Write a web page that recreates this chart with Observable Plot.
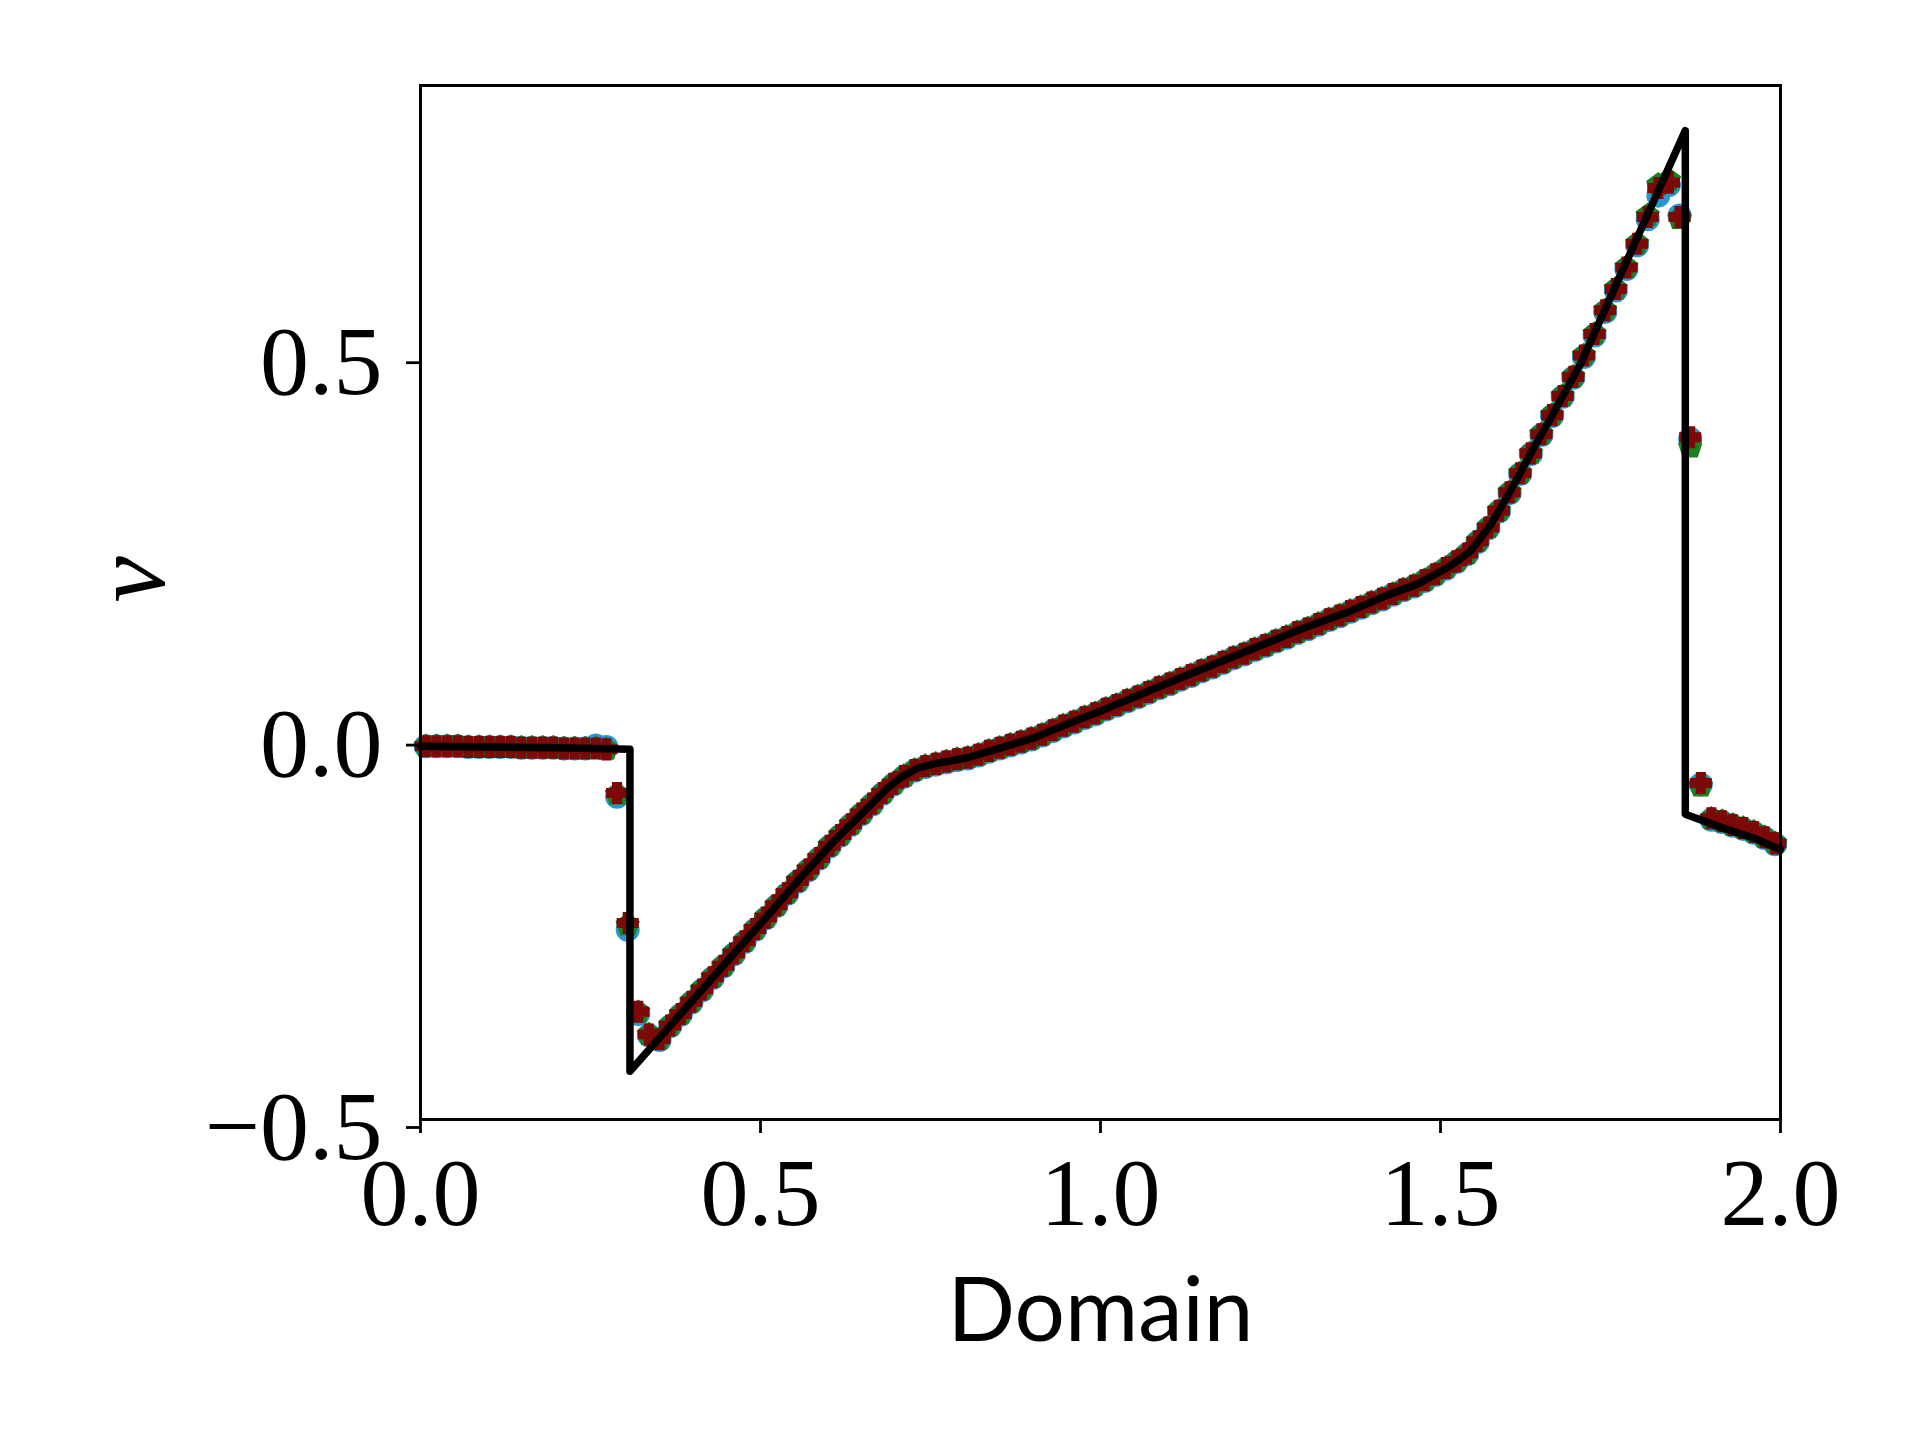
<!DOCTYPE html>
<html>
<head>
<meta charset="utf-8">
<script src="https://cdn.jsdelivr.net/npm/d3@7"></script>
<script src="https://cdn.jsdelivr.net/npm/@observablehq/plot@0.6"></script>
<style>
  html, body { margin: 0; padding: 0; background: #fff; }
  #chart { width: 1920px; height: 1440px; }
</style>
</head>
<body>
<div id="chart"></div>
<script>
// ---- data ----
const xTicks = [0, 0.5, 1, 1.5, 2];
const yTicks = [-0.5, 0, 0.5];

// cell centres of the numerical solutions
const xCells = [0.0078,0.0234,0.0391,0.0547,0.0703,0.0859,0.1016,0.1172,0.1328,0.1484,0.1641,0.1797,0.1953,0.2109,0.2266,0.2422,
0.2578,0.2734,0.2891,0.3047,0.3203,0.3359,0.3516,0.3672,0.3828,0.3984,0.4141,0.4297,0.4453,0.4609,0.4766,0.4922,
0.5078,0.5234,0.5391,0.5547,0.5703,0.5859,0.6016,0.6172,0.6328,0.6484,0.6641,0.6797,0.6953,0.7109,0.7266,0.7422,
0.7578,0.7734,0.7891,0.8047,0.8203,0.8359,0.8516,0.8672,0.8828,0.8984,0.9141,0.9297,0.9453,0.9609,0.9766,0.9922,
1.0078,1.0234,1.0391,1.0547,1.0703,1.0859,1.1016,1.1172,1.1328,1.1484,1.1641,1.1797,1.1953,1.2109,1.2266,1.2422,
1.2578,1.2734,1.2891,1.3047,1.3203,1.3359,1.3516,1.3672,1.3828,1.3984,1.4141,1.4297,1.4453,1.4609,1.4766,1.4922,
1.5078,1.5234,1.5391,1.5547,1.5703,1.5859,1.6016,1.6172,1.6328,1.6484,1.6641,1.6797,1.6953,1.7109,1.7266,1.7422,
1.7578,1.7734,1.7891,1.8047,1.8203,1.8359,1.8516,1.8672,1.8828,1.8984,1.9141,1.9297,1.9453,1.9609,1.9766,1.9922];

// scheme A (blue circles)
const vCircle = [-0.012,-0.012,-0.012,-0.012,-0.013,-0.013,-0.013,-0.013,-0.013,-0.014,-0.014,-0.014,-0.014,-0.015,-0.015,-0.015,
-0.011,-0.013,-0.078,-0.252,-0.362,-0.390,-0.396,
-0.378,-0.363,-0.347,-0.331,-0.315,-0.300,-0.284,-0.268,-0.252,-0.237,-0.221,-0.205,-0.189,
-0.174,-0.159,-0.143,-0.129,-0.115,-0.101,-0.088,-0.074,-0.062,-0.052,-0.044,-0.039,
-0.036,-0.033,-0.030,-0.028,-0.024,-0.019,-0.015,-0.011,-0.007,-0.003,0.002,0.008,0.014,0.019,0.025,0.030,
0.036,0.041,0.047,0.052,0.058,0.064,0.069,0.075,0.080,0.086,0.091,0.097,0.103,0.108,0.114,0.119,0.125,0.130,0.136,0.141,0.147,0.153,0.158,0.164,
0.169,0.175,0.180,0.186,0.192,0.197,0.204,0.212,0.220,0.229,0.239,0.255,0.273,0.295,0.319,0.344,0.370,0.395,0.420,0.445,0.470,
0.497,0.525,0.556,0.584,0.612,0.643,0.677,0.708,0.722,0.682,0.390,-0.062,-0.108,-0.111,-0.116,-0.120,-0.125,-0.132,-0.140];

// scheme B (green pentagons)
const vPentagon = [-0.012,-0.012,-0.012,-0.012,-0.013,-0.013,-0.013,-0.013,-0.013,-0.014,-0.014,-0.014,-0.014,-0.015,-0.015,-0.015,
-0.015,-0.016,-0.075,-0.246,-0.360,-0.389,-0.395,
-0.377,-0.362,-0.346,-0.330,-0.314,-0.299,-0.283,-0.267,-0.251,-0.236,-0.220,-0.204,-0.188,
-0.173,-0.158,-0.142,-0.128,-0.114,-0.100,-0.087,-0.073,-0.061,-0.051,-0.043,-0.038,
-0.035,-0.032,-0.029,-0.027,-0.023,-0.018,-0.014,-0.010,-0.006,-0.002,0.003,0.009,0.015,0.020,0.026,0.031,
0.037,0.042,0.048,0.053,0.059,0.065,0.070,0.076,0.081,0.087,0.092,0.098,0.104,0.109,0.115,0.120,0.126,0.131,0.137,0.142,0.148,0.154,0.159,0.165,
0.170,0.176,0.181,0.187,0.193,0.198,0.205,0.213,0.221,0.230,0.240,0.256,0.274,0.296,0.320,0.345,0.371,0.396,0.421,0.446,0.471,
0.499,0.527,0.558,0.586,0.614,0.645,0.682,0.722,0.728,0.678,0.379,-0.064,-0.107,-0.110,-0.115,-0.119,-0.124,-0.131,-0.139];

// scheme C (dark red plus)
const vPlus = [-0.012,-0.012,-0.012,-0.012,-0.013,-0.013,-0.013,-0.013,-0.013,-0.014,-0.014,-0.014,-0.014,-0.015,-0.015,-0.015,
-0.015,-0.016,-0.073,-0.243,-0.359,-0.389,-0.395,
-0.377,-0.362,-0.346,-0.330,-0.314,-0.299,-0.283,-0.267,-0.251,-0.236,-0.220,-0.204,-0.188,
-0.173,-0.158,-0.142,-0.128,-0.114,-0.100,-0.087,-0.073,-0.061,-0.051,-0.043,-0.038,
-0.035,-0.032,-0.029,-0.027,-0.023,-0.018,-0.014,-0.010,-0.006,-0.002,0.003,0.009,0.015,0.020,0.026,0.031,
0.037,0.042,0.048,0.053,0.059,0.065,0.070,0.076,0.081,0.087,0.092,0.098,0.104,0.109,0.115,0.120,0.126,0.131,0.137,0.142,0.148,0.154,0.159,0.165,
0.170,0.176,0.181,0.187,0.193,0.198,0.205,0.213,0.221,0.230,0.240,0.256,0.274,0.296,0.320,0.345,0.371,0.396,0.421,0.446,0.471,
0.499,0.527,0.558,0.586,0.614,0.645,0.680,0.718,0.725,0.680,0.392,-0.060,-0.106,-0.110,-0.115,-0.119,-0.124,-0.131,-0.139];

// exact solution (black line)
const exactX = [0.000,0.100,0.200,0.308,0.308,0.450,0.500,0.559,0.608,0.657,0.685,0.706,0.730,0.755,0.804,0.853,0.902,0.951,1.000,
1.100,1.200,1.300,1.368,1.420,1.466,1.515,1.544,1.574,1.603,1.632,1.660,1.706,1.860,1.860,1.919,1.960,2.000];
const exactV = [-0.012,-0.013,-0.014,-0.016,-0.437,-0.294,-0.244,-0.184,-0.136,-0.093,-0.068,-0.053,-0.041,-0.035,-0.027,-0.014,-0.001,0.017,0.034,
0.071,0.107,0.143,0.165,0.185,0.200,0.224,0.243,0.278,0.322,0.370,0.414,0.488,0.793,-0.101,-0.120,-0.132,-0.147];

// ---- tables ----
const cells = xCells.map((x, i) => ({x, a: vCircle[i], b: vPentagon[i], c: vPlus[i]}));
const exact = exactX.map((x, i) => ({x, v: exactV[i]}));

// pentagon symbol (matplotlib "p")
const pentagon = {
  draw(context, size) {
    const R = Math.sqrt(size / 2.3776);
    for (let k = 0; k < 5; ++k) {
      const a = -Math.PI / 2 + k * 2 * Math.PI / 5;
      const px = R * Math.cos(a), py = R * Math.sin(a);
      if (k === 0) context.moveTo(px, py); else context.lineTo(px, py);
    }
    context.closePath();
  }
};

const serif = "'Liberation Serif', 'DejaVu Serif', serif";
const fmt = d3.format(".1f");
const cBlue = "#2a97d3", cGreen = "#1c801c", cRed = "#7c0808";

const chart = Plot.plot({
  width: 1920,
  height: 1440,
  marginLeft: 420,
  marginRight: 140,
  marginTop: 85,
  marginBottom: 321,
  x: {domain: [0, 2]},
  y: {domain: [-0.5, 0.852]},
  style: {background: "white", color: "black", fontFamily: serif, overflow: "visible"},
  marks: [
    Plot.dot(cells, {x: "x", y: "a", r: 10, fill: cBlue, stroke: cBlue, strokeWidth: 4, symbol: "circle"}),
    Plot.dot(cells, {x: "x", y: "b", r: 9, fill: cGreen, stroke: cGreen, strokeWidth: 4, symbol: pentagon}),
    Plot.dot(cells, {x: "x", y: "c", r: 7.6, fill: cRed, stroke: cRed, strokeWidth: 4, strokeLinejoin: "miter", symbol: "cross"}),
    Plot.line(exact, {x: "x", y: "v", stroke: "black", strokeWidth: 7.5, strokeLinejoin: "round", strokeLinecap: "round"}),
    Plot.frame({stroke: "black", strokeWidth: 3}),
    Plot.axisX({ticks: xTicks, tickFormat: fmt, tickSize: 14, tickPadding: 23, strokeWidth: 2.8,
      fontSize: 96, fontFamily: serif, label: null}),
    Plot.axisY({ticks: yTicks, tickFormat: fmt, tickSize: 14, tickPadding: 24, strokeWidth: 2.8,
      fontSize: 98, fontFamily: serif, dy: 8, label: null}),
    Plot.text(["Domain"], {frameAnchor: "bottom", lineAnchor: "bottom", dy: 221, text: d => d,
      fontSize: 89, fontFamily: "Lato, 'DejaVu Sans', sans-serif"}),
    Plot.text(["v"], {frameAnchor: "left", dx: -290, rotate: -90, text: d => d,
      fontSize: 104, fontStyle: "italic", fontFamily: serif})
  ]
});

document.getElementById("chart").appendChild(chart);
</script>
</body>
</html>
